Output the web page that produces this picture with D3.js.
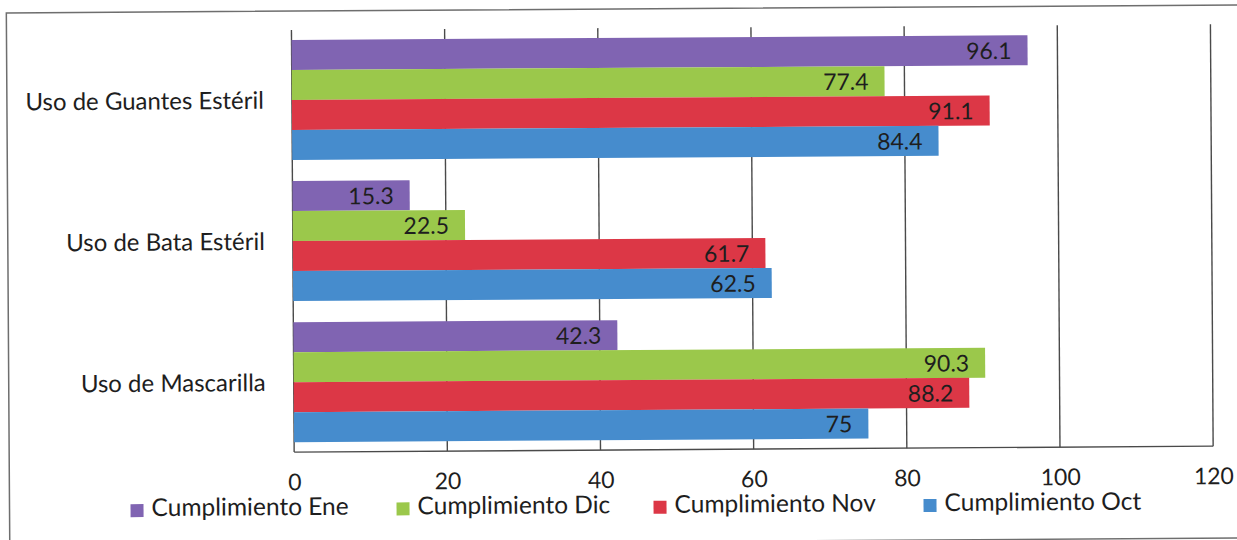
<!DOCTYPE html>
<html>
<head>
<meta charset="utf-8">
<script src="https://cdn.jsdelivr.net/npm/d3@7"></script>
<style>
  html, body { margin: 0; padding: 0; background: #ffffff; }
  svg { display: block; }
  text { font-family: Lato, "Open Sans", sans-serif; fill: #1e1e1e; }
</style>
</head>
<body>
<svg id="chart" width="1237" height="540"></svg>
<script>
// ---- data ----
const categories = ["Uso de Guantes Estéril", "Uso de Bata Estéril", "Uso de Mascarilla"];
const seriesNames = ["Cumplimiento Ene", "Cumplimiento Dic", "Cumplimiento Nov", "Cumplimiento Oct"];
const valuesEne = [96.1, 15.3, 42.3];
const valuesDic = [77.4, 22.5, 90.3];
const valuesNov = [91.1, 61.7, 88.2];
const valuesOct = [84.4, 62.5, 75];
const xTicks = [0, 20, 40, 60, 80, 100, 120];
const seriesColors = ["#8064B2", "#9BC84B", "#DC3746", "#468CCD"];

const seriesValues = [valuesEne, valuesDic, valuesNov, valuesOct];

// ---- layout ----
const W = 1237, H = 540;
const plot = { left: 293, right: 1212, top: 28, bottom: 450 };

const svg = d3.select("#chart");
svg.append("rect").attr("width", W).attr("height", H).attr("fill", "#ffffff");

// slight scan tilt of the original
const g = svg.append("g").attr("transform", "rotate(-0.37, 618, 270)");

// outer frame
g.append("rect")
  .attr("x", 8).attr("y", 9).attr("width", 1240).attr("height", 533)
  .attr("fill", "none").attr("stroke", "#6e6e6e").attr("stroke-width", 1.5);

const x = d3.scaleLinear().domain([0, 120]).range([plot.left, plot.right]);
const y0 = d3.scaleBand().domain(categories).range([plot.top, plot.bottom])
  .paddingInner(0.15).paddingOuter(0.07);
const y1 = d3.scaleBand().domain(seriesNames).range([0, y0.bandwidth()]).padding(0);

// gridlines
g.append("g").selectAll("line").data(xTicks).join("line")
  .attr("x1", d => x(d)).attr("x2", d => x(d))
  .attr("y1", plot.top).attr("y2", plot.bottom)
  .attr("stroke", "#4a4a4a").attr("stroke-width", 1.4);

// bottom line of plot area
g.append("line")
  .attr("x1", x(0)).attr("x2", x(120))
  .attr("y1", plot.bottom).attr("y2", plot.bottom)
  .attr("stroke", "#4a4a4a").attr("stroke-width", 1.4);

// bars
const groups = g.append("g").selectAll("g").data(categories).join("g")
  .attr("transform", d => `translate(0,${y0(d)})`);

groups.each(function(cat, ci) {
  const gg = d3.select(this);
  seriesNames.forEach((s, si) => {
    const v = seriesValues[si][ci];
    gg.append("rect")
      .attr("x", x(0))
      .attr("y", y1(s))
      .attr("width", x(v) - x(0))
      .attr("height", y1.bandwidth())
      .attr("fill", seriesColors[si]);
    gg.append("text")
      .attr("x", x(v) - 16)
      .attr("y", y1(s) + y1.bandwidth() / 2)
      .attr("dy", "0.37em")
      .attr("text-anchor", "end")
      .attr("font-size", 23)
      .text(String(v));
  });
});

// category labels
g.append("g").selectAll("text").data(categories).join("text")
  .attr("x", 265)
  .attr("y", d => y0(d) + y0.bandwidth() / 2)
  .attr("dy", "0.36em")
  .attr("text-anchor", "end")
  .attr("font-size", 24)
  .text(d => d);

// x axis tick labels
const xAxis = d3.axisBottom(x).tickValues(xTicks).tickSize(0).tickPadding(0);
const axG = g.append("g").attr("transform", `translate(0,${plot.bottom})`).call(xAxis);
axG.select(".domain").remove();
axG.selectAll("text")
  .attr("y", 38).attr("dy", 0)
  .attr("font-size", 23)
  .attr("font-family", "Lato, 'Open Sans', sans-serif")
  .attr("fill", "#1e1e1e");

// legend
const legendX = [129, 395, 652, 922];
const leg = g.append("g").selectAll("g").data(seriesNames).join("g")
  .attr("transform", (d, i) => `translate(${legendX[i]},0)`);
leg.append("rect")
  .attr("x", 0).attr("y", 501).attr("width", 13).attr("height", 13)
  .attr("fill", (d, i) => seriesColors[i]);
leg.append("text")
  .attr("x", 21).attr("y", 513)
  .attr("font-size", 24.5)
  .text(d => d);
</script>
</body>
</html>
